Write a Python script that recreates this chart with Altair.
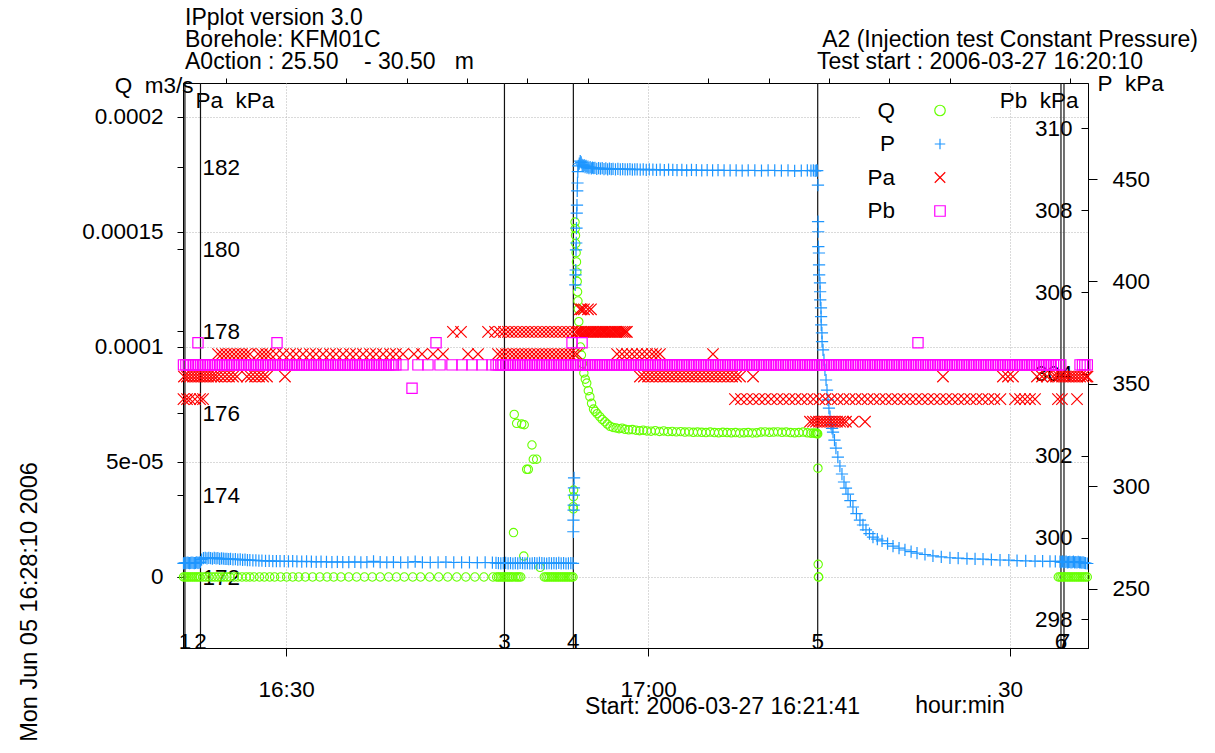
import altair as alt
import pandas as pd

FONT = "Liberation Sans"
NB = "\u00a0"

# ---------------- data (time = minutes after 16:00) ----------------
event_times = [21.62, 22.91, 48.10, 53.81, 74.06, 94.22, 94.47]
event_labels = ["1", "2", "3", "4", "5", "6", "7"]

x_major_values = [30, 60, 90]
x_major_labels = ["16:30", "17:00", "30"]
x_minor_values = [25, 35, 40, 45, 50, 55, 65, 70, 75, 80, 85, 95]

q_tick_values = [0, 5e-05, 1e-04, 1.5e-04, 2e-04]
q_tick_labels = ["0", "5e-05", "0.0001", "0.00015", "0.0002"]
pa_tick_values = [172, 174, 176, 178, 180, 182]
p_tick_values = [250, 300, 350, 400, 450]
pb_tick_values = [298, 300, 302, 304, 306, 308, 310]

x_domain = [21.46, 96.46]
q_domain = [-3.087e-05, 2.1478e-04]
pa_domain = [170.27, 184.05]
p_domain = [221.04, 496.92]
pb_domain = [297.30, 311.11]

# Q readings equal to 0 m3/s
q_zero_times = [
    21.50, 21.65, 21.80, 21.95, 22.10, 22.25, 22.40, 22.55, 22.70, 22.85,
    23.10, 23.35, 23.60, 23.85, 24.10, 24.35, 24.60, 24.85, 25.10, 25.35,
    25.70, 26.00, 26.35, 26.70, 27.00, 27.35, 27.80, 28.20, 28.65, 29.05,
    29.55, 30.05, 30.55, 31.05, 31.60, 32.20, 32.80, 33.40, 33.95, 34.55,
    35.20, 35.85, 36.50, 37.15, 37.80, 38.50, 39.15, 39.80, 40.50, 41.15,
    41.90, 42.65, 43.40, 44.15, 44.90, 45.65, 46.40, 47.15, 47.45, 47.60,
    47.75, 47.90, 48.05, 48.20, 48.35, 48.50, 48.65, 48.80, 49.00, 49.15,
    49.30, 49.45,
    51.40, 51.55, 51.70, 51.85, 52.00, 52.15, 52.30, 52.45, 52.60, 52.75,
    52.90, 53.05, 53.20, 53.35, 53.50, 53.65, 53.78,
    74.12, 74.14,
    94.00, 94.15, 94.30, 94.45, 94.60, 94.75, 94.90, 95.05, 95.20, 95.35,
    95.50, 95.65, 95.80, 95.95, 96.10, 96.25, 96.40,
]

# Q readings (time, m3/s) above zero
q_flow = [
    (48.85, 1.93e-5), (48.91, 7.07e-5), (49.11, 6.68e-5), (49.53, 6.65e-5),
    (49.70, 0.91e-5), (49.74, 6.62e-5), (49.94, 4.68e-5), (50.08, 4.68e-5),
    (50.38, 5.74e-5), (50.49, 5.12e-5), (50.77, 5.12e-5), (51.05, 0.42e-5),
    (53.80, 3.06e-5), (53.81, 2.96e-5), (53.82, 3.49e-5), (53.83, 3.78e-5),
    (53.95, 15.43e-5), (53.97, 15.15e-5), (53.99, 14.85e-5), (54.01, 14.50e-5),
    (54.04, 14.10e-5), (54.07, 13.70e-5), (54.10, 13.25e-5), (54.13, 12.85e-5),
    (54.16, 12.40e-5), (54.19, 12.00e-5), (54.22, 11.65e-5), (54.26, 11.10e-5),
    (54.40, 10.00e-5), (54.48, 9.65e-5), (54.57, 9.28e-5), (54.68, 8.87e-5),
    (54.80, 8.60e-5), (54.92, 8.43e-5), (55.05, 8.10e-5), (55.18, 7.84e-5),
    (55.32, 7.55e-5), (55.48, 7.30e-5), (55.62, 7.20e-5), (55.78, 7.10e-5),
    (56.00, 6.97e-5), (56.20, 6.85e-5), (56.42, 6.75e-5), (56.62, 6.65e-5),
    (56.85, 6.55e-5), (57.10, 6.50e-5), (57.35, 6.48e-5), (57.60, 6.45e-5),
    (57.85, 6.47e-5), (58.10, 6.42e-5), (58.40, 6.40e-5), (58.70, 6.41e-5),
    (59.00, 6.38e-5), (59.30, 6.36e-5), (59.60, 6.38e-5), (59.90, 6.35e-5),
    (60.25, 6.34e-5), (60.60, 6.36e-5), (60.95, 6.33e-5), (61.30, 6.35e-5),
    (61.65, 6.32e-5), (62.00, 6.33e-5), (62.35, 6.31e-5), (62.70, 6.32e-5),
    (63.05, 6.30e-5), (63.40, 6.31e-5), (63.75, 6.29e-5), (64.10, 6.30e-5),
    (64.45, 6.29e-5), (64.80, 6.28e-5), (65.15, 6.30e-5), (65.50, 6.28e-5),
    (65.85, 6.27e-5), (66.20, 6.29e-5), (66.55, 6.28e-5), (66.90, 6.27e-5),
    (67.25, 6.28e-5), (67.60, 6.26e-5), (67.95, 6.27e-5), (68.30, 6.28e-5),
    (68.65, 6.26e-5), (69.00, 6.27e-5), (69.35, 6.30e-5), (69.70, 6.31e-5),
    (70.05, 6.29e-5), (70.40, 6.30e-5), (70.75, 6.31e-5), (71.10, 6.29e-5),
    (71.45, 6.30e-5), (71.80, 6.28e-5), (72.15, 6.27e-5), (72.50, 6.28e-5),
    (72.85, 6.30e-5), (73.20, 6.27e-5), (73.50, 6.25e-5), (73.70, 6.26e-5),
    (73.85, 6.24e-5), (73.95, 6.25e-5), (74.02, 6.24e-5), (74.06, 6.22e-5),
    (74.08, 4.73e-5), (74.10, 0.55e-5),
]

# P readings (time, kPa)
p_readings = [
    (21.50, 262.4), (21.60, 262.6), (21.70, 262.5), (21.80, 262.7), (21.90, 262.6),
    (22.00, 262.5), (22.10, 262.6), (22.20, 262.7), (22.30, 262.6), (22.40, 262.5),
    (22.50, 262.6), (22.60, 262.8), (22.70, 262.6), (22.80, 262.7), (22.90, 263.0),
    (23.00, 264.2), (23.15, 264.9), (23.30, 265.1), (23.45, 264.8), (23.60, 265.0),
    (23.75, 264.9), (23.90, 264.7), (24.05, 265.0), (24.20, 264.8), (24.35, 264.9),
    (24.50, 264.6), (24.65, 264.8), (24.80, 264.7), (24.95, 264.5), (25.10, 264.6),
    (25.25, 264.4), (25.40, 264.5), (25.60, 264.3), (25.80, 264.4), (26.00, 264.2),
    (26.20, 264.3), (26.40, 264.1), (26.60, 264.2), (26.80, 264.0),
    (27.00, 263.9), (27.25, 263.8), (27.50, 263.8), (27.75, 263.7), (28.00, 263.7),
    (28.30, 263.6), (28.60, 263.6), (28.90, 263.5), (29.20, 263.5), (29.50, 263.4),
    (29.85, 263.4), (30.20, 263.3), (30.55, 263.4), (30.90, 263.3), (31.30, 263.2),
    (31.70, 263.3), (32.10, 263.2), (32.50, 263.1), (32.90, 263.2), (33.35, 263.1),
    (33.80, 263.0), (34.25, 263.1), (34.70, 263.0), (35.20, 263.0), (35.70, 263.1),
    (36.20, 262.9), (36.70, 263.0), (37.25, 263.3), (37.80, 263.0), (38.35, 262.9),
    (38.90, 263.0), (39.50, 262.8), (40.10, 262.9), (40.70, 263.2), (41.30, 262.9),
    (41.95, 262.8), (42.60, 262.9), (43.25, 263.0), (43.90, 262.8), (44.55, 262.9),
    (45.20, 262.8), (45.85, 262.7), (46.50, 262.8), (47.10, 262.7),
    (47.40, 262.6), (47.60, 262.5), (47.80, 262.4), (48.00, 262.5), (48.20, 262.6),
    (48.40, 262.4), (48.60, 262.5), (48.80, 262.3), (49.00, 262.5), (49.20, 262.4),
    (49.40, 262.6), (49.60, 262.5), (49.80, 262.4), (50.00, 262.5), (50.20, 262.3),
    (50.40, 262.4), (50.60, 262.5), (50.80, 262.4), (51.00, 262.6), (51.20, 262.5),
    (51.40, 262.4), (51.60, 262.3), (51.80, 262.5), (52.00, 262.4), (52.20, 262.5),
    (52.40, 262.4), (52.60, 262.6), (52.80, 262.4), (53.00, 262.5), (53.20, 262.3),
    (53.40, 262.4), (53.60, 262.5), (53.78, 262.4),
    (53.81, 277.8), (53.82, 283.5), (53.83, 288.4), (53.84, 290.8), (53.85, 295.7),
    (53.86, 299.2), (53.87, 304.1), (53.97, 398.3), (53.99, 403.2), (54.01, 405.6),
    (54.03, 415.4), (54.05, 418.8), (54.07, 426.1), (54.09, 433.4), (54.11, 437.3),
    (54.13, 444.2), (54.15, 448.1), (54.18, 453.6),
    (54.22, 456.5), (54.30, 457.5), (54.38, 458.8), (54.46, 458.2), (54.54, 457.0),
    (54.62, 456.3), (54.70, 456.8), (54.78, 455.9), (54.86, 456.4), (54.94, 455.6),
    (55.02, 456.1), (55.10, 455.4), (55.20, 455.8), (55.30, 455.2), (55.40, 455.6),
    (55.50, 455.3), (55.60, 455.5), (55.75, 455.0), (55.90, 455.4), (56.05, 455.1),
    (56.20, 455.3), (56.35, 454.9), (56.50, 455.2), (56.65, 454.8), (56.80, 455.1),
    (56.95, 454.9), (57.10, 455.0), (57.30, 454.8), (57.50, 455.0), (57.70, 454.7),
    (57.90, 454.9), (58.10, 454.8), (58.30, 454.7), (58.50, 454.9), (58.70, 454.6),
    (58.90, 454.8), (59.10, 454.7), (59.35, 454.6), (59.60, 454.8), (59.85, 454.5),
    (60.10, 454.7), (60.40, 454.6), (60.70, 454.5), (61.00, 454.6), (61.35, 454.4),
    (61.70, 454.6), (62.05, 454.5), (62.40, 454.4), (62.80, 454.5), (63.20, 454.3),
    (63.60, 454.5), (64.00, 454.4), (64.45, 454.3), (64.90, 454.4), (65.35, 454.2),
    (65.80, 454.4), (66.30, 454.3), (66.80, 454.2), (67.30, 454.3), (67.80, 454.1),
    (68.30, 454.3), (68.85, 454.2), (69.40, 454.1), (69.95, 454.3), (70.50, 454.2),
    (71.05, 454.1), (71.60, 454.2), (72.15, 454.0), (72.70, 454.1), (73.20, 454.2),
    (73.50, 454.1), (73.70, 454.3), (73.85, 454.0), (73.95, 454.2), (74.02, 454.1),
    (74.08, 447.1), (74.09, 429.2), (74.10, 424.3), (74.11, 417.0), (74.16, 413.9),
    (74.17, 408.1), (74.18, 403.2), (74.25, 399.3), (74.26, 395.0), (74.27, 391.0),
    (74.33, 387.1), (74.34, 382.8), (74.35, 378.8), (74.41, 374.9), (74.42, 370.6),
    (74.50, 366.6), (74.58, 361.7), (74.66, 356.8), (74.75, 351.9), (74.83, 347.0),
    (74.91, 342.2), (74.99, 338.2), (75.08, 334.0), (75.16, 330.2), (75.25, 328.3),
    (75.33, 326.4), (75.45, 322.5), (75.57, 318.6), (75.73, 314.2), (75.90, 309.9),
    (76.07, 306.0), (76.24, 302.1), (76.40, 299.1), (76.57, 296.2), (76.77, 293.0),
    (76.98, 289.9), (77.27, 286.7), (77.56, 283.5), (77.81, 281.1), (78.06, 278.7),
    (78.35, 276.9), (78.64, 275.2), (79.00, 274.2), (79.39, 273.3), (79.85, 272.0),
    (80.30, 270.8), (80.80, 269.8), (81.29, 268.9), (81.80, 268.1), (82.29, 267.4),
    (82.95, 266.7), (83.61, 266.0), (84.30, 265.5), (85.02, 265.1), (85.70, 264.9),
    (86.43, 264.7), (87.10, 264.5), (87.76, 264.4), (88.45, 264.2), (89.17, 264.0),
    (89.90, 263.9), (90.58, 263.7), (91.30, 263.6), (92.07, 263.5), (92.70, 263.4),
    (93.31, 263.3), (93.75, 263.3), (94.14, 263.2),
    (94.25, 263.0), (94.35, 263.3), (94.45, 262.9), (94.55, 263.1), (94.65, 263.2),
    (94.75, 262.8), (94.85, 263.0), (94.95, 263.1), (95.05, 262.9), (95.15, 263.0),
    (95.25, 263.2), (95.35, 262.8), (95.45, 263.0), (95.55, 262.9), (95.65, 263.1),
    (95.75, 262.8), (95.85, 262.9), (95.95, 262.7), (96.05, 262.8), (96.15, 262.6),
    (96.25, 262.5), (96.40, 262.3),
]

# Pa readings, quantised levels (kPa) with the times at each level
pa_levels = [175.79, 176.34, 176.89, 177.44, 177.98, 178.53]
pa_times = [
    [73.42, 73.67, 73.92, 74.17, 74.41, 74.66, 74.91, 75.16, 75.41, 75.66,
     75.91, 76.15, 76.40, 76.98, 77.98],
    [21.50, 21.79, 22.04, 22.45, 22.87, 23.12,
     67.20, 67.70, 68.20, 68.70, 69.20, 69.70, 70.20, 70.70, 71.20, 71.70,
     72.20, 72.70, 73.20, 73.70, 74.20, 74.70, 75.20, 75.70, 76.20, 76.70,
     77.20, 77.70, 78.20, 78.70, 79.20, 79.70, 80.20, 80.70, 81.20, 81.70,
     82.20, 82.70, 83.20, 83.70, 84.20, 84.70, 85.20, 85.70, 86.20, 86.70,
     87.20, 87.70, 88.20, 88.70, 89.20,
     90.41, 90.83, 91.24, 91.65, 92.07, 93.97, 94.30, 95.55],
    [21.54, 21.79, 22.04, 22.29, 22.54, 22.79, 23.03, 23.28, 23.53, 23.78,
     24.03, 24.28, 24.61, 24.94, 25.27, 25.60, 25.93, 26.76, 27.09, 27.43,
     27.76, 28.09, 28.42, 29.91,
     59.33, 59.66, 60.00, 60.33, 60.66, 60.99, 61.32, 61.65, 61.98, 62.32,
     62.65, 62.98, 63.31, 63.64, 63.97, 64.30, 64.64, 64.97, 65.30, 65.63,
     65.96, 66.29, 66.62, 66.96, 67.29, 67.62, 68.70,
     84.44, 89.41, 89.83, 90.24, 92.23, 92.65, 93.06, 93.56, 93.81, 94.06,
     94.31, 94.56, 94.81, 95.05, 95.30, 95.55, 95.80, 96.05, 96.30, 96.42],
    [24.36, 24.69, 25.02, 25.35, 25.69, 26.02, 26.35, 26.68, 27.01, 27.68,
     28.01, 28.34, 28.67, 29.17, 29.75, 30.33, 30.83, 31.40, 31.98, 32.48,
     33.06, 33.64, 34.14, 34.72, 35.30, 35.80, 36.38, 36.96, 37.46, 38.04,
     38.62, 39.11, 39.69, 40.60, 41.27, 42.18, 43.01, 45.08, 45.91,
     47.56, 47.89, 48.23, 48.56, 48.89, 49.22, 49.55, 49.88, 50.21, 50.55,
     50.88, 51.21, 51.54, 51.87, 52.21, 52.54, 52.87, 53.20, 53.53, 53.86,
     54.11, 57.43, 57.84, 58.25, 58.67, 59.08, 59.50, 59.91, 60.33, 60.66,
     60.99, 65.38],
    [43.83, 44.50, 46.74, 47.32, 47.73, 48.06, 48.39, 48.72, 49.06, 49.39,
     49.72, 50.05, 50.38, 50.71, 51.05, 51.38, 51.71, 52.04, 52.37, 52.70,
     53.03, 53.37, 53.70, 54.03, 54.20, 54.36, 54.50, 54.69, 54.85, 55.02,
     55.20, 55.35, 55.50, 55.69, 55.85, 56.02, 56.20, 56.35, 56.50, 56.68,
     56.85, 57.01, 57.20, 57.34, 57.50, 57.67, 57.85, 58.01, 58.15, 58.25],
    [54.36, 54.50, 54.69, 55.02, 55.27],
]

# Pb readings: steady level with a few single readings off it
pb_base_level = 304.22
pb_base_times = [
    21.5, 21.7, 21.9, 22.1, 22.3, 22.5, 22.7, 22.9, 23.1, 23.3,
    23.5, 23.7, 23.9, 24.1, 24.3, 24.5, 24.7, 24.9, 25.1, 25.3,
    25.5, 25.7, 25.9, 26.1, 26.3, 26.5, 26.7, 26.9, 27.1, 27.3,
    27.5, 27.7, 27.9, 28.1, 28.3, 28.5, 28.7, 28.9, 29.1, 29.3,
    29.5, 29.7, 29.9, 30.1, 30.3, 30.5, 30.7, 30.9, 31.1, 31.3,
    31.5, 31.7, 31.9, 32.1, 32.3, 32.5, 32.7, 32.9, 33.1, 33.3,
    33.5, 33.7, 33.9, 34.1, 34.3, 34.5, 34.7, 34.9, 35.1, 35.3,
    35.5, 35.7, 35.9, 36.1, 36.3, 36.5, 36.7, 36.9, 37.1, 37.3,
    37.5, 37.7, 37.9, 38.1, 38.3, 38.5, 38.7, 38.9, 39.1,
    39.69, 40.93, 41.76, 42.76, 43.75, 44.58, 45.41, 46.24, 47.07,
    47.4, 47.6, 47.8, 48.0, 48.2, 48.4, 48.6, 48.8, 49.0, 49.2,
    49.4, 49.6, 49.8, 50.0, 50.2, 50.4, 50.6, 50.8, 51.0, 51.2,
    51.4, 51.6, 51.8, 52.0, 52.2, 52.4, 52.6, 52.8, 53.0, 53.2,
    53.4, 53.6, 53.8, 54.0, 54.2, 54.4, 54.6, 54.8, 55.0, 55.2,
    55.4, 55.6, 55.8, 56.0, 56.2, 56.4, 56.6, 56.8, 57.0, 57.2,
    57.4, 57.6, 57.8, 58.0, 58.2, 58.4, 58.6, 58.8, 59.0, 59.2,
    59.4, 59.6, 59.8, 60.0, 60.2, 60.4, 60.6, 60.8, 61.0, 61.2,
    61.4, 61.6, 61.8, 62.0, 62.2, 62.4, 62.6, 62.8, 63.0, 63.2,
    63.4, 63.6, 63.8, 64.0, 64.2, 64.4, 64.6, 64.8, 65.0, 65.2,
    65.4, 65.6, 65.8, 66.0, 66.2, 66.4, 66.6, 66.8, 67.0, 67.2,
    67.4, 67.6, 67.8, 68.0, 68.2, 68.4, 68.6, 68.8, 69.0, 69.2,
    69.4, 69.6, 69.8, 70.0, 70.2, 70.4, 70.6, 70.8, 71.0, 71.2,
    71.4, 71.6, 71.8, 72.0, 72.2, 72.4, 72.6, 72.8, 73.0, 73.2,
    73.4, 73.6, 73.8, 74.0, 74.2, 74.4, 74.6, 74.8, 75.0, 75.2,
    75.4, 75.6, 75.8, 76.0, 76.2, 76.4, 76.6, 76.8, 77.0, 77.2,
    77.4, 77.6, 77.8, 78.0, 78.2, 78.4, 78.6, 78.8, 79.0, 79.2,
    79.4, 79.6, 79.8, 80.0, 80.2, 80.4, 80.6, 80.8, 81.0, 81.2,
    81.4, 81.6, 81.8, 82.0, 82.2, 82.4, 82.6, 82.8, 83.0, 83.2,
    83.4, 83.6, 83.8, 84.0, 84.2, 84.4, 84.6, 84.8, 85.0, 85.2,
    85.4, 85.6, 85.8, 86.0, 86.2, 86.4, 86.6, 86.8, 87.0, 87.2,
    87.4, 87.6, 87.8, 88.0, 88.2, 88.4, 88.6, 88.8, 89.0, 89.2,
    89.4, 89.6, 89.8, 90.0, 90.2, 90.4, 90.6, 90.8, 91.0, 91.2,
    91.4, 91.6, 91.8, 92.0, 92.2, 92.4, 92.6, 92.8, 93.0, 93.2,
    93.4, 93.6, 93.8, 94.0, 94.2, 95.8, 96.0, 96.2, 96.4,
]
pb_high_level = 304.76
pb_high_times = [22.70, 29.25, 42.43, 53.70, 54.53, 82.37]
pb_low_level = 303.65
pb_low_times = [40.44]

series_names = ["Q", "P", "Pa", "Pb"]
series_colors = ["#66ff00", "#1e96ff", "#ff0000", "#ff00ff"]

# ---------------- tables ----------------
q_df = pd.DataFrame({
    "t": q_zero_times + [t for t, _ in q_flow],
    "v": [0.0] * len(q_zero_times) + [v for _, v in q_flow],
})
q_df["series"] = "Q"
p_df = pd.DataFrame(p_readings, columns=["t", "v"])
p_df["series"] = "P"
pa_df = pd.concat([pd.DataFrame({"t": ts, "v": lvl}) for lvl, ts in zip(pa_levels, pa_times)],
                  ignore_index=True)
pa_df["series"] = "Pa"
pb_df = pd.concat([
    pd.DataFrame({"t": pb_base_times, "v": pb_base_level}),
    pd.DataFrame({"t": pb_high_times, "v": pb_high_level}),
    pd.DataFrame({"t": pb_low_times, "v": pb_low_level}),
], ignore_index=True)
pb_df["series"] = "Pb"
ev_df = pd.DataFrame({"t": event_times, "label": event_labels})
legend_df = pd.DataFrame({"series": series_names})


def label_expr(values, labels, tol):
    parts = [f"abs(datum.value - ({v})) < {tol} ? '{l}' : " for v, l in zip(values, labels)]
    return "".join(parts) + "''"


AX_FS = 22.5
GRID = dict(gridColor="#b4b4b4", gridDash=[1, 2], gridWidth=1)
x_scale = alt.Scale(domain=x_domain, nice=False, zero=False)

PLUS = "M-1,0L1,0M0,-1L0,1"
XMARK = "M-1,-1L1,1M-1,1L1,-1"
color_scale = alt.Scale(domain=series_names, range=series_colors)
shape_scale = alt.Scale(domain=series_names, range=["circle", PLUS, XMARK, "square"])


def enc_series():
    return dict(
        color=alt.Color("series:N", scale=color_scale, legend=None),
        shape=alt.Shape("series:N", scale=shape_scale, legend=None),
    )


x_main_axis = alt.Axis(values=x_major_values,
                       labelExpr=label_expr(x_major_values, x_major_labels, 0.01),
                       tickSize=8, labelFontSize=AX_FS, labelBaseline="middle",
                       labelPadding=33, labelFlush=False, labelOverlap=False,
                       grid=True, **GRID,
                       title="Start: 2006-03-27 16:21:41", titleFontSize=23,
                       titleX=539, titleY=58, titleAlign="center",
                       titleBaseline="middle")
x_minor_axis = alt.Axis(values=x_minor_values, labels=False, tickSize=5,
                        domain=False, grid=False, title=None)

q_layer = alt.Chart(q_df).mark_point(filled=False, size=70, strokeWidth=1.1, opacity=1).encode(
    x=alt.X("t:Q", scale=x_scale, axis=x_main_axis),
    y=alt.Y("v:Q", scale=alt.Scale(domain=q_domain, nice=False, zero=False),
            axis=alt.Axis(orient="left", values=q_tick_values,
                          labelExpr=label_expr(q_tick_values, q_tick_labels, 1e-9),
                          tickSize=6, labelPadding=14, labelFontSize=AX_FS,
                          labelBaseline="middle", labelOverlap=False, labelFlush=False,
                          grid=True, **GRID,
                          title=f"Q{NB} m3/s", titleAngle=0, titleX=10, titleY=2,
                          titleAlign="right", titleBaseline="middle", titleFontSize=AX_FS)),
    **enc_series(),
)

p_layer = alt.Chart(p_df).mark_point(filled=False, size=150, strokeWidth=1.2, opacity=1).encode(
    x=alt.X("t:Q", scale=x_scale, axis=x_minor_axis),
    y=alt.Y("v:Q", scale=alt.Scale(domain=p_domain, nice=False, zero=False),
            axis=alt.Axis(orient="right", values=p_tick_values, tickSize=9,
                          labelPadding=15, labelFontSize=AX_FS, labelAlign="left",
                          labelBaseline="middle", labelOverlap=False, labelFlush=False,
                          grid=False,
                          title=f"P{NB} kPa", titleAngle=0, titleX=9, titleY=0,
                          titleAlign="left", titleBaseline="middle", titleFontSize=AX_FS)),
    **enc_series(),
)

pa_layer = alt.Chart(pa_df).mark_point(filled=False, size=130, strokeWidth=1.2, opacity=1).encode(
    x=alt.X("t:Q", scale=x_scale, axis=None),
    y=alt.Y("v:Q", scale=alt.Scale(domain=pa_domain, nice=False, zero=False),
            axis=alt.Axis(orient="left", values=pa_tick_values, tickSize=6,
                          labelPadding=-25, labelAlign="left", labelFontSize=AX_FS,
                          labelBaseline="middle", labelOverlap=False, labelFlush=False,
                          domain=False, grid=False,
                          title=f"Pa{NB} kPa", titleAngle=0, titleX=12, titleY=17,
                          titleAlign="left", titleBaseline="middle", titleFontSize=AX_FS)),
    **enc_series(),
)

pb_layer = alt.Chart(pb_df).mark_point(filled=False, size=105, strokeWidth=1.2, opacity=1).encode(
    x=alt.X("t:Q", scale=x_scale, axis=None),
    y=alt.Y("v:Q", scale=alt.Scale(domain=pb_domain, nice=False, zero=False),
            axis=alt.Axis(orient="left", offset=-905, values=pb_tick_values, tickSize=7,
                          labelPadding=9, labelAlign="right", labelFontSize=AX_FS,
                          labelBaseline="middle", labelOverlap=False, labelFlush=False,
                          domain=False, grid=False,
                          title=f"Pb{NB} kPa", titleAngle=0, titleX=-10, titleY=17,
                          titleAlign="right", titleBaseline="middle", titleFontSize=AX_FS)),
    **enc_series(),
)

ev_rules = alt.Chart(ev_df).mark_rule(color="#111111", strokeWidth=1.2).encode(
    x=alt.X("t:Q", scale=x_scale, axis=None))
ev_text = alt.Chart(ev_df).mark_text(fontSize=AX_FS, font=FONT, color="black",
                                     align="center", baseline="middle").encode(
    x=alt.X("t:Q", scale=x_scale, axis=None), y=alt.value(559), text="label:N")

# legend (labels on the left, symbols on the right, white box behind)
legend_y = alt.Y("series:N", scale=alt.Scale(domain=series_names, range=[27.5, 128], padding=0),
                 axis=None)
legend_box = alt.Chart(alt.Data(values=[{"a": 1}])).mark_rect(color="white").encode(
    x=alt.value(677), x2=alt.value(808), y=alt.value(8), y2=alt.value(146))
legend_sym = alt.Chart(legend_df).mark_point(filled=False, size=110, strokeWidth=1.2, opacity=1).encode(
    x=alt.value(757), y=legend_y, **enc_series())
legend_lab = alt.Chart(legend_df).mark_text(font=FONT, fontSize=AX_FS, color="black",
                                            align="right", baseline="middle").encode(
    x=alt.value(712), y=legend_y, text="series:N")


def note(text, x, y, align="left", baseline="alphabetic", size=23, angle=0):
    return alt.Chart(alt.Data(values=[{"label": text}])).mark_text(
        font=FONT, fontSize=size, color="black", align=align, baseline=baseline,
        angle=angle).encode(x=alt.value(x), y=alt.value(y), text="label:N")


notes = [
    note("IPplot version 3.0", 2, -58),
    note("Borehole: KFM01C", 2, -36.5),
    note(f"A0ction : 25.50{NB*4}- 30.50{NB*3}m", 2, -14.5),
    note("A2 (Injection test Constant Pressure)", 1015, -36.5, align="right"),
    note("Test start : 2006-03-27 16:20:10", 634, -14.5),
    note("hour:min", 777, 623, align="center", baseline="middle", size=23),
    note("Mon Jun 05 16:28:10 2006", -146, 519, align="center", baseline="alphabetic",
         size=23.5, angle=270),
]

chart = alt.layer(
    ev_rules, q_layer, p_layer, pa_layer, pb_layer, ev_text,
    legend_box, legend_sym, legend_lab, *notes
).resolve_scale(y="independent").resolve_axis(x="independent").properties(
    width=905, height=565,
    autosize=alt.AutoSizeParams(type="none"),
    padding={"left": 175, "top": 75, "right": 117, "bottom": 97},
).configure_view(stroke="black", strokeWidth=1).configure_axis(
    labelFont=FONT, titleFont=FONT, labelColor="black", titleColor="black",
    tickColor="black", domainColor="black", titleFontWeight="normal",
    tickWidth=1, domainWidth=1,
)

chart.save("out.html", embed_options={"renderer": "svg", "actions": False})
